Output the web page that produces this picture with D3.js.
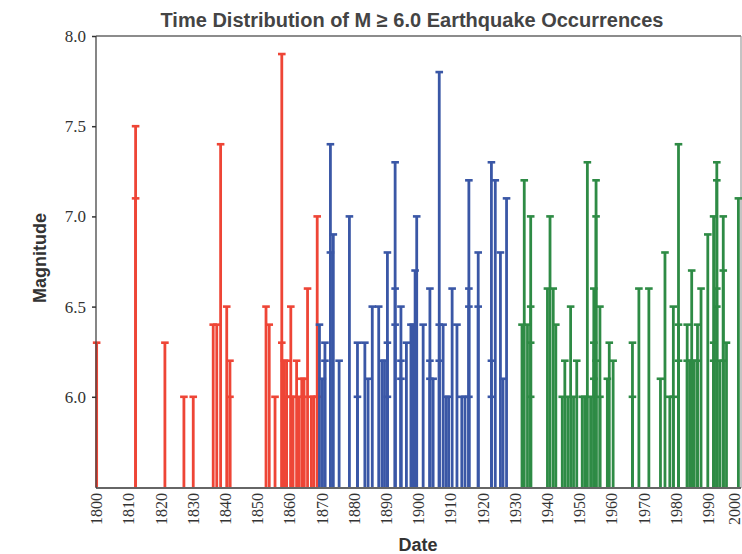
<!DOCTYPE html>
<html>
<head>
<meta charset="utf-8">
<script src="https://cdn.jsdelivr.net/npm/d3@7"></script>
<style>
  html, body { margin: 0; padding: 0; background: #fff; }
  svg { display: block; }
</style>
</head>
<body>
<svg id="chart" width="742" height="554"></svg>
<script>
// ---- data: [decimal year, magnitude] ----
const redEvents = [
  [1800.2, 6.3], [1812.3, 7.5], [1812.3, 7.1], [1821.4, 6.3], [1827.3, 6.0], [1830.2, 6.0],
  [1836.4, 6.4], [1837.5, 6.4], [1838.7, 7.4], [1840.6, 6.5], [1841.6, 6.2], [1841.6, 6.0],
  [1852.8, 6.5], [1853.8, 6.4], [1855.6, 6.0], [1857.7, 7.9], [1857.7, 6.3], [1858.5, 6.2],
  [1859.2, 6.2], [1859.2, 6.0], [1860.5, 6.5], [1860.5, 6.0], [1861.2, 6.0], [1862.3, 6.2],
  [1863.0, 6.0], [1863.9, 6.1], [1864.6, 6.1], [1864.6, 6.0], [1865.7, 6.6], [1866.9, 6.0],
  [1867.6, 6.0], [1868.7, 7.0], [1868.7, 6.0]
];
const blueEvents = [
  [1869.4, 6.4], [1870.3, 6.1], [1871.1, 6.3], [1871.1, 6.2], [1872.8, 7.4], [1872.8, 6.8],
  [1873.7, 6.9], [1875.5, 6.2], [1878.7, 7.0], [1881.2, 6.3], [1881.2, 6.0], [1883.5, 6.3],
  [1884.5, 6.1], [1885.8, 6.5], [1887.8, 6.5], [1888.8, 6.2], [1889.6, 6.2], [1890.5, 6.8],
  [1890.5, 6.3], [1890.5, 6.0], [1892.9, 7.3], [1892.9, 6.6], [1892.9, 6.4], [1894.7, 6.5],
  [1894.7, 6.2], [1894.7, 6.1], [1896.4, 6.3], [1897.8, 6.4], [1898.5, 6.4], [1899.1, 6.7],
  [1899.6, 7.0], [1901.6, 6.4], [1903.7, 6.6], [1903.7, 6.2], [1903.7, 6.1], [1904.7, 6.1],
  [1906.6, 7.8], [1906.6, 6.4], [1906.6, 6.2], [1907.8, 6.4], [1908.7, 6.0], [1909.5, 6.0],
  [1910.6, 6.6], [1912.1, 6.4], [1913.6, 6.0], [1914.6, 6.0], [1915.8, 7.2], [1915.8, 6.6],
  [1915.8, 6.5], [1915.8, 6.0], [1918.7, 6.8], [1918.7, 6.5], [1922.8, 7.3], [1922.8, 6.2],
  [1922.8, 6.0], [1924.0, 7.2], [1925.6, 6.8], [1926.4, 6.1], [1927.5, 7.1]
];
const greenEvents = [
  [1932.3, 6.4], [1933.0, 7.2], [1934.0, 6.4], [1935.0, 7.0], [1935.0, 6.5], [1935.0, 6.3],
  [1935.0, 6.0], [1940.2, 6.6], [1941.0, 7.0], [1942.0, 6.6], [1942.8, 6.4], [1944.8, 6.0],
  [1945.6, 6.2], [1946.5, 6.0], [1947.4, 6.5], [1948.3, 6.0], [1949.3, 6.2], [1951.0, 6.0],
  [1951.8, 6.0], [1952.6, 7.3], [1953.6, 6.0], [1954.6, 6.6], [1954.6, 6.3], [1954.6, 6.1],
  [1955.3, 7.2], [1955.3, 7.0], [1955.3, 6.2], [1956.5, 6.5], [1956.5, 6.0], [1958.8, 6.1],
  [1959.4, 6.3], [1960.6, 6.2], [1966.6, 6.3], [1966.6, 6.0], [1968.6, 6.6], [1971.7, 6.6],
  [1975.3, 6.1], [1976.7, 6.8], [1978.2, 6.0], [1979.3, 6.5], [1979.3, 6.0], [1980.9, 7.4],
  [1980.9, 6.4], [1980.9, 6.2], [1983.6, 6.4], [1983.6, 6.2], [1984.5, 6.2], [1985.0, 6.7],
  [1985.8, 6.2], [1986.8, 6.4], [1986.8, 6.2], [1987.9, 6.6], [1990.0, 6.9], [1991.8, 7.0],
  [1991.8, 6.3], [1991.8, 6.2], [1992.8, 7.3], [1992.8, 7.2], [1992.8, 6.6], [1992.8, 6.5],
  [1993.7, 6.2], [1994.8, 7.0], [1994.8, 6.7], [1994.8, 6.2], [1995.8, 6.3], [1999.5, 7.1]
];
const xTicks = [1800, 1810, 1820, 1830, 1840, 1850, 1860, 1870, 1880, 1890, 1900,
                1910, 1920, 1930, 1940, 1950, 1960, 1970, 1980, 1990, 2000];
const yTicks = [6.0, 6.5, 7.0, 7.5, 8.0];
const titleText = "Time Distribution of M \u2265 6.0 Earthquake Occurrences";

// ---- layout ----
const svg = d3.select("#chart");
const L = 96, R = 740, T = 36, B = 487;
const x = d3.scaleLinear().domain([1800, 2000]).range([L, R]);
const y = d3.scaleLinear().domain([5.5, 8.0]).range([B, T]);

const series = [
  { data: redEvents, color: "#ee4536" },
  { data: blueEvents, color: "#3a57a6" },
  { data: greenEvents, color: "#2e8b45" }
];

// frame (top & right)
svg.append("line").attr("x1", L).attr("x2", 741).attr("y1", T).attr("y2", T)
  .attr("stroke", "#666").attr("stroke-width", 1.3);
svg.append("line").attr("x1", 741).attr("x2", 741).attr("y1", T).attr("y2", B + 1)
  .attr("stroke", "#888").attr("stroke-width", 1);

// stems and caps
const marks = svg.append("g");
series.forEach(s => {
  const g = marks.append("g").attr("fill", "none").attr("stroke", s.color);
  g.selectAll("line.stem").data(s.data).enter().append("line")
    .attr("class", "stem")
    .attr("x1", d => x(d[0])).attr("x2", d => x(d[0]))
    .attr("y1", y(5.5)).attr("y2", d => y(d[1]))
    .attr("stroke-width", 2.8);
  g.selectAll("line.cap").data(s.data).enter().append("line")
    .attr("class", "cap")
    .attr("x1", d => x(d[0]) - 3.8).attr("x2", d => x(d[0]) + 3.8)
    .attr("y1", d => y(d[1])).attr("y2", d => y(d[1]))
    .attr("stroke-width", 2.6);
});

// y axis
const yAxis = d3.axisLeft(y).tickValues(yTicks).tickFormat(d3.format(".1f"))
  .tickSize(4).tickPadding(6);
const gy = svg.append("g").attr("transform", `translate(${L},0)`).call(yAxis);
gy.select(".domain").attr("stroke", "#444").attr("stroke-width", 1.3)
  .attr("d", `M0,${T}V${B + 1}`);
gy.selectAll(".tick line").attr("stroke", "#333").attr("stroke-width", 1.5);
gy.selectAll(".tick text").attr("font-family", "'Liberation Serif', 'Times New Roman', serif")
  .attr("font-size", 17).attr("fill", "#333");

// x axis
const xAxis = d3.axisBottom(x).tickValues(xTicks).tickFormat(d3.format("d"))
  .tickSize(0).tickPadding(6);
const gx = svg.append("g").attr("transform", `translate(0,${B + 1})`).call(xAxis);
gx.select(".domain").attr("stroke", "#333").attr("stroke-width", 1.5)
  .attr("d", `M${L},0H741`);
gx.selectAll(".tick text")
  .attr("font-family", "'Liberation Serif', 'Times New Roman', serif")
  .attr("font-size", 16).attr("fill", "#333")
  .attr("text-anchor", "end")
  .attr("transform", "rotate(-90)")
  .attr("x", -5).attr("y", 0)
  .attr("dy", d => d === 2000 ? "-0.05em" : "0.35em");

// titles
svg.append("text").attr("x", 412).attr("y", 27).attr("text-anchor", "middle")
  .attr("font-family", "'Liberation Sans', Arial, sans-serif").attr("font-weight", "bold")
  .attr("font-size", 20).attr("fill", "#444").text(titleText);
svg.append("text").attr("transform", "translate(46,258) rotate(-90)").attr("text-anchor", "middle")
  .attr("font-family", "'Liberation Sans', Arial, sans-serif").attr("font-weight", "bold")
  .attr("font-size", 18).attr("fill", "#333").text("Magnitude");
svg.append("text").attr("x", 418).attr("y", 551).attr("text-anchor", "middle")
  .attr("font-family", "'Liberation Sans', Arial, sans-serif").attr("font-weight", "bold")
  .attr("font-size", 18).attr("fill", "#333").text("Date");
</script>
</body>
</html>
